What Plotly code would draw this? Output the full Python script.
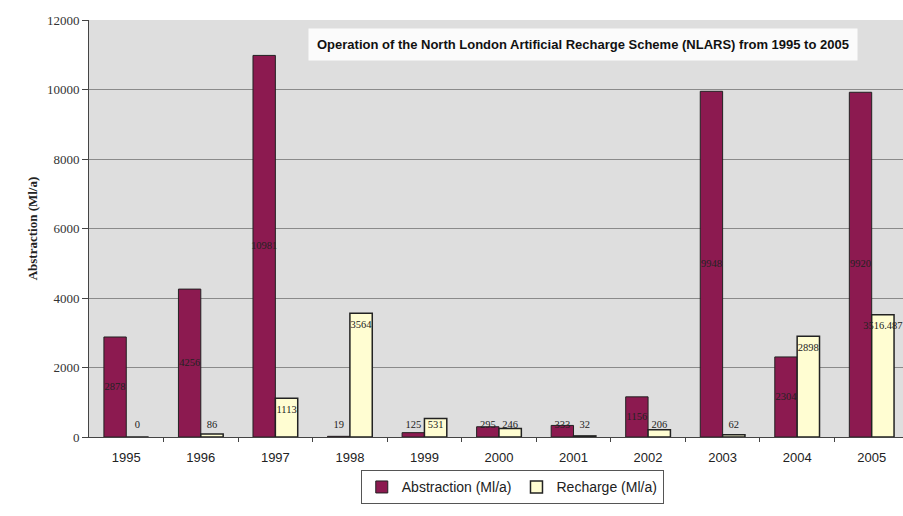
import plotly.graph_objects as go

years = ["1995", "1996", "1997", "1998", "1999", "2000",
         "2001", "2002", "2003", "2004", "2005"]
abstraction = [2878, 4256, 10981, 19, 125, 295, 333, 1156, 9948, 2304, 9920]
recharge = [0, 86, 1113, 3564, 531, 246, 32, 206, 62, 2898, 3516.487]

abs_color = "#8c1a50"
rech_color = "#fffdd2"
bar_w = 0.30
label_pad = 345  # data units (~12 px) used to keep labels off the baseline / top

idx = list(range(len(years)))
x_abs = [i - bar_w / 2 for i in idx]
x_rech = [i + bar_w / 2 for i in idx]

fig = go.Figure()
fig.add_trace(go.Bar(
    x=x_abs, y=abstraction, width=bar_w, name="Abstraction (Ml/a)",
    marker=dict(color=abs_color, line=dict(color="#222222", width=1)),
))
fig.add_trace(go.Bar(
    x=x_rech, y=recharge, width=bar_w, name="Recharge (Ml/a)",
    marker=dict(color=rech_color, line=dict(color="#222222", width=1.5)),
))

# value labels: abstraction centred in the bar, recharge just inside the top
label_font = dict(family="Liberation Serif, Times New Roman, serif", size=10.5, color="#222222")
fig.add_trace(go.Scatter(
    x=x_abs, y=[max(v / 2, label_pad) for v in abstraction],
    text=[str(v) for v in abstraction], mode="text",
    textposition="middle center", textfont=label_font,
    showlegend=False, hoverinfo="skip",
))
fig.add_trace(go.Scatter(
    x=x_rech, y=[max(v - label_pad, label_pad) for v in recharge],
    text=[str(v) for v in recharge], mode="text",
    textposition="middle center", textfont=label_font,
    showlegend=False, hoverinfo="skip",
))

fig.update_layout(
    width=903, height=516,
    margin=dict(l=89, r=0, t=20, b=79),
    paper_bgcolor="white",
    plot_bgcolor="#dedede",
    barmode="overlay",
    showlegend=True,
    legend=dict(
        orientation="h", x=0.52, xanchor="center", y=-0.08, yanchor="top",
        font=dict(family="Liberation Sans, Arial, sans-serif", size=14, color="#222222"),
        bordercolor="#555555", borderwidth=1, bgcolor="white",
        itemwidth=30, traceorder="normal",
    ),
    xaxis=dict(
        range=[-0.5, 10.42],
        tickvals=idx, ticktext=years, ticks="",
        ticklabelstandoff=8,
        tickfont=dict(family="Liberation Sans, Arial, sans-serif", size=13, color="#222222"),
        showgrid=False, zeroline=False,
        showline=True, linecolor="#444444", linewidth=1,
        minor=dict(tickvals=[i + 0.5 for i in idx[:-1]], ticks="outside",
                   ticklen=4, tickcolor="#444444", showgrid=False),
    ),
    yaxis=dict(
        range=[0, 12000], dtick=2000, tickformat="d",
        tickfont=dict(family="Liberation Serif, Times New Roman, serif", size=13, color="#333333"),
        ticks="outside", ticklen=6, tickcolor="#444444",
        showline=True, linecolor="#444444", linewidth=1,
        showgrid=True, gridcolor="#8a8a8a", gridwidth=1,
        zeroline=False,
        title=dict(text="<b>Abstraction (Ml/a)</b>", standoff=6,
                   font=dict(family="Liberation Serif, Times New Roman, serif", size=13, color="#222222")),
    ),
    annotations=[dict(
        text="<b>Operation of the North London Artificial Recharge Scheme (NLARS) from 1995 to 2005</b>",
        xref="paper", yref="paper", x=(583 - 89) / 814, y=(437 - 45) / 417,
        xanchor="center", yanchor="middle", showarrow=False,
        font=dict(family="Liberation Sans, Arial, sans-serif", size=13, color="#111111"),
        bgcolor="#fbfbfb", borderpad=8,
    )],
)

fig.write_html("out.html")
